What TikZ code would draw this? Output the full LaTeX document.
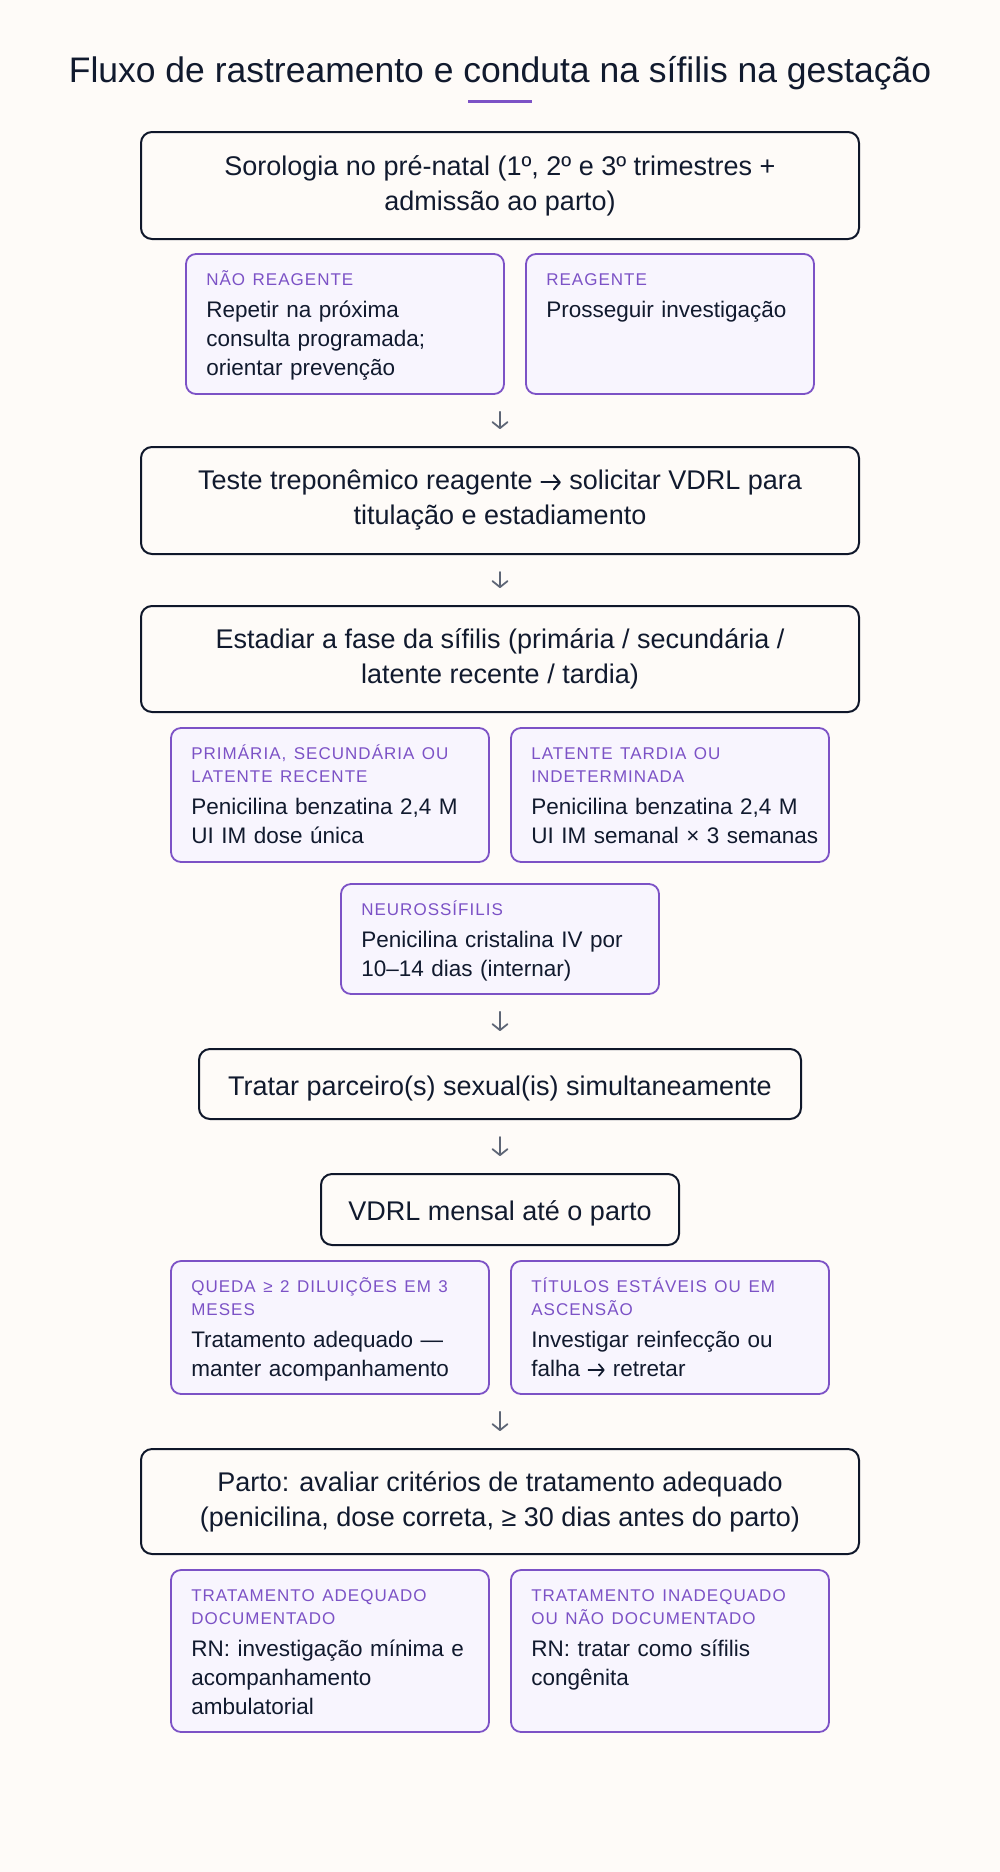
\documentclass[tikz,border=0pt]{standalone}
\usepackage{fontspec}
\setmainfont{Liberation Sans}
\newfontfamily\tagfont[LetterSpace=6]{Liberation Sans}
\usepackage{xcolor}
\usepackage{tikz}
\usetikzlibrary{arrows.meta, positioning, calc}

\definecolor{bgcream}{HTML}{FEFBF8}
\definecolor{ink}{HTML}{111A2E}
\definecolor{navy}{HTML}{0F172A}
\definecolor{tagviolet}{HTML}{7C52C6}
\definecolor{lilac}{HTML}{F8F5FE}
\definecolor{arrowgray}{HTML}{5E6676}

% small arrow used inside the texts
\newcommand\rarr{\tikz[baseline=0pt]\draw[ink, line width=0.075em, line cap=round, line join=round,
  -{Straight Barb[length=0.22em, width=0.52em, round]}] (0pt,0.28em) -- (0.72em,0.28em);}

\begin{document}
\begin{tikzpicture}[x=1pt, y=-1pt,
  stepbox/.style={draw=navy, line width=2pt, rounded corners=11pt, align=center, text=ink,
    font=\fontsize{27}{35}\selectfont, execute at begin node=\rule{0pt}{28pt}},
  optbox/.style={draw=tagviolet, fill=lilac, line width=1.8pt, rounded corners=10pt,
    minimum width=318, inner sep=0pt},
  opttext/.style={anchor=base west, inner sep=0pt, text width=300pt, align=left, text=ink,
    font=\fontsize{22.5}{29}\selectfont},
  flow/.style={draw=arrowgray, line width=1.8pt, line cap=round,
    -{Straight Barb[length=6pt, width=15pt, round]}, shorten <=17pt, shorten >=17pt}]

  % Background and bounding box
  \fill[bgcream] (0,0) rectangle (1000,1872);
  \useasboundingbox (0,0) rectangle (1000,1872);

  % Title
  \node (title) at (500,82) [anchor=base, text=ink, font=\fontsize{35.5}{40}\selectfont]
    {Fluxo de rastreamento e conduta na sífilis na gestação};
  \draw[tagviolet, line width=3.5pt] (468,101.5) -- (532,101.5);

  % Main steps
  \node (s1) at (500,185.5) [stepbox, minimum width=718, minimum height=107]
    {Sorologia no pré-natal (1º, 2º e 3º trimestres +\\admissão ao parto)};
  \node (s2) at (500,500.5) [stepbox, minimum width=718, minimum height=107]
    {Teste treponêmico reagente \rarr{} solicitar VDRL para\\titulação e estadiamento};
  \node (s3) at (500,659) [stepbox, minimum width=718, minimum height=106]
    {Estadiar a fase da sífilis (primária / secundária /\\latente recente / tardia)};
  \node (s4) at (500,1084) [stepbox, minimum width=602, minimum height=70]
    {Tratar parceiro(s) sexual(is) simultaneamente};
  \node (s5) at (500,1209.5) [stepbox, minimum width=358, minimum height=71]
    {VDRL mensal até o parto};
  \node (s6) at (500,1501.5) [stepbox, minimum width=718, minimum height=105]
    {Parto: avaliar critérios de tratamento adequado\\(penicilina, dose correta, ≥ 30 dias antes do parto)};

  % Serology result
  \node (na) at (345,324) [optbox, minimum height=140] {};
  \node (ra) at (670,324) [optbox, minimum width=288, minimum height=140] {};
  \node at ([shift={(21,32)}]na.north west) [opttext]
    {{\tagfont\fontsize{17}{23}\selectfont\color{tagviolet}NÃO REAGENTE\par}\vskip3.2pt
     Repetir na próxima\\consulta programada;\\orientar prevenção};
  \node at ([shift={(21,32)}]ra.north west) [opttext]
    {{\tagfont\fontsize{17}{23}\selectfont\color{tagviolet}REAGENTE\par}\vskip3.2pt
     Prosseguir investigação};

  % Stage treatment
  \node (pb) at (330,795) [optbox, minimum height=134] {};
  \node (lb) at (670,795) [optbox, minimum height=134] {};
  \node (nb) at (500,939) [optbox, minimum height=110] {};
  \node at ([shift={(21,32)}]pb.north west) [opttext]
    {{\tagfont\fontsize{17}{23}\selectfont\color{tagviolet}PRIMÁRIA, SECUNDÁRIA OU\\LATENTE RECENTE\par}\vskip3.2pt
     Penicilina benzatina 2,4 M\\UI IM dose única};
  \node at ([shift={(21,32)}]lb.north west) [opttext]
    {{\tagfont\fontsize{17}{23}\selectfont\color{tagviolet}LATENTE TARDIA OU\\INDETERMINADA\par}\vskip3.2pt
     Penicilina benzatina 2,4 M\\UI IM semanal × 3 semanas};
  \node at ([shift={(21,32)}]nb.north west) [opttext]
    {{\tagfont\fontsize{17}{23}\selectfont\color{tagviolet}NEUROSSÍFILIS\par}\vskip3.2pt
     Penicilina cristalina IV por\\10–14 dias (internar)};

  % VDRL follow-up
  \node (qc) at (330,1327.5) [optbox, minimum height=133] {};
  \node (tc) at (670,1327.5) [optbox, minimum height=133] {};
  \node at ([shift={(21,32)}]qc.north west) [opttext]
    {{\tagfont\fontsize{17}{23}\selectfont\color{tagviolet}QUEDA ≥ 2 DILUIÇÕES EM 3\\MESES\par}\vskip3.2pt
     Tratamento adequado —\\manter acompanhamento};
  \node at ([shift={(21,32)}]tc.north west) [opttext]
    {{\tagfont\fontsize{17}{23}\selectfont\color{tagviolet}TÍTULOS ESTÁVEIS OU EM\\ASCENSÃO\par}\vskip3.2pt
     Investigar reinfecção ou\\falha \rarr{} retretar};

  % Newborn
  \node (ad) at (330,1651) [optbox, minimum height=162] {};
  \node (id) at (670,1651) [optbox, minimum height=162] {};
  \node at ([shift={(21,32)}]ad.north west) [opttext]
    {{\tagfont\fontsize{17}{23}\selectfont\color{tagviolet}TRATAMENTO ADEQUADO\\DOCUMENTADO\par}\vskip3.2pt
     RN: investigação mínima e\\acompanhamento\\ambulatorial};
  \node at ([shift={(21,32)}]id.north west) [opttext]
    {{\tagfont\fontsize{17}{23}\selectfont\color{tagviolet}TRATAMENTO INADEQUADO\\OU NÃO DOCUMENTADO\par}\vskip3.2pt
     RN: tratar como sífilis\\congênita};

  % Arrows
  \draw[flow] (s2.north |- na.south) -- (s2.north);
  \draw[flow] (s2.south) -- (s3.north);
  \draw[flow] (nb.south) -- (s4.north);
  \draw[flow] (s4.south) -- (s5.north);
  \draw[flow] (s6.north |- qc.south) -- (s6.north);
\end{tikzpicture}
\end{document}
